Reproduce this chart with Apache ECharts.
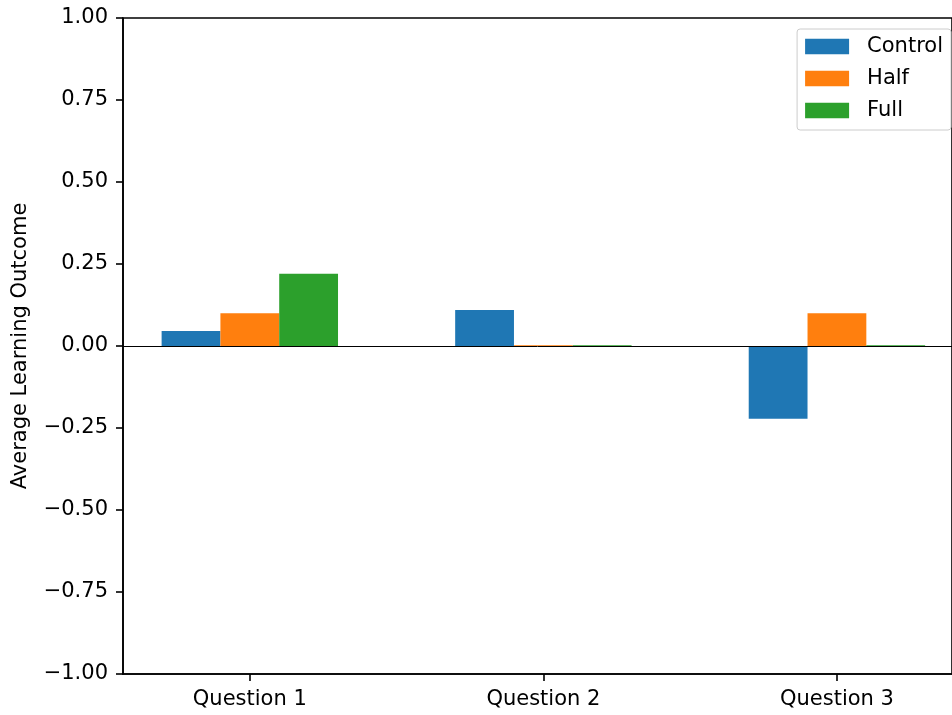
<!DOCTYPE html>
<html>
<head>
<meta charset="utf-8">
<script src="https://cdn.jsdelivr.net/npm/echarts@6/dist/echarts.min.js"></script>
<style>
  html, body { margin: 0; padding: 0; background: #fff; }
  #chart { width: 952px; height: 715px; }
</style>
</head>
<body>
<div id="chart"></div>
<script>
const categories = ['Question 1', 'Question 2', 'Question 3']
const control = [0.046, 0.11, -0.222]
const half = [0.10, 0.002, 0.10]
const full = [0.22, 0.002, 0.002]
const yTicks = [-1, -0.75, -0.5, -0.25, 0, 0.25, 0.5, 0.75, 1]

const chart = echarts.init(document.getElementById('chart'))
const font = 'DejaVu Sans'
const fs = 21
const toPoints = (arr) => arr.map((v, i) => [i, v])
const catIdx = categories.map((_, i) => i)

const mkSeries = (name, values, color) => ({
  name,
  type: 'bar',
  data: toPoints(values),
  barWidth: 58.8,
  barGap: '0%',
  itemStyle: { color },
})

const series = [
  mkSeries('Control', control, '#1f77b4'),
  mkSeries('Half', half, '#ff7f0e'),
  mkSeries('Full', full, '#2ca02c'),
]
// horizontal line at zero
series[2].markLine = {
  silent: true,
  symbol: 'none',
  label: { show: false },
  lineStyle: { color: '#000', type: 'solid', width: 1 },
  data: [{ yAxis: 0 }],
}

const option = {
  animation: false,
  textStyle: { fontFamily: font },
  grid: {
    left: 123,
    top: 18,
    right: -3,
    bottom: 41,
    show: true,
    borderColor: '#000',
    borderWidth: 1.6,
  },
  legend: {
    orient: 'vertical',
    right: 1,
    top: 29,
    itemWidth: 44,
    itemHeight: 15.5,
    itemGap: 11,
    padding: [7, 8, 9, 8],
    borderColor: '#cccccc',
    borderWidth: 1,
    borderRadius: 3,
    icon: 'rect',
    textStyle: { fontFamily: font, fontSize: fs, color: '#000', padding: [0, 0, 0, 13] },
    data: ['Control', 'Half', 'Full'],
  },
  xAxis: {
    type: 'value',
    min: -0.432,
    max: 2.392,
    splitLine: { show: false },
    axisLine: { onZero: false, lineStyle: { color: '#000', width: 1.6 } },
    axisTick: { customValues: catIdx, length: 7, lineStyle: { color: '#000', width: 1.6 } },
    axisLabel: {
      customValues: catIdx,
      formatter: (v) => categories[Math.round(v)] || '',
      margin: 15,
      fontSize: fs,
      color: '#000',
      fontFamily: font,
    },
  },
  yAxis: {
    type: 'value',
    min: -1,
    max: 1,
    interval: 0.25,
    name: 'Average Learning Outcome',
    nameLocation: 'middle',
    nameGap: 92,
    nameTextStyle: { fontSize: fs, color: '#000', fontFamily: font },
    splitLine: { show: false },
    axisLine: { onZero: false, lineStyle: { color: '#000', width: 1.6 } },
    axisTick: { length: 7, lineStyle: { color: '#000', width: 1.6 } },
    axisLabel: {
      margin: 15,
      fontSize: fs,
      color: '#000',
      fontFamily: font,
      customValues: yTicks,
      formatter: (v) => v.toFixed(2).replace('-', '\u2212'),
    },
  },
  series,
}

chart.setOption(option)
</script>
</body>
</html>
